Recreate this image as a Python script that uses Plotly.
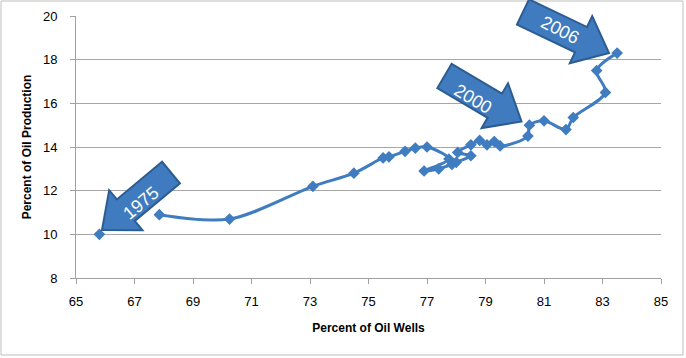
import math
import plotly.graph_objects as go

# ---- data ----
# None marks the break in the drawn line after the first (1975) point
wells_pct = [65.8, None, 67.85, 70.25, 73.1, 74.5, 75.5, 75.7, 76.25, 76.6, 77.0,
             77.75, 76.9, 77.4, 77.85, 78.0, 78.5, 78.05, 78.5, 78.8, 79.05,
             79.3, 79.5, 80.45, 80.5, 81.0, 81.75, 82.0, 83.1, 82.8, 83.5]
production_pct = [10.0, None, 10.9, 10.7, 12.2, 12.8, 13.5, 13.55, 13.8, 13.95, 14.0,
                  13.45, 12.9, 13.0, 13.2, 13.3, 13.6, 13.75, 14.1, 14.3, 14.1,
                  14.25, 14.05, 14.5, 15.0, 15.2, 14.8, 15.35, 16.5, 17.5, 18.3]
x_ticks = [65, 67, 69, 71, 73, 75, 77, 79, 81, 83, 85]
y_ticks = [8, 10, 12, 14, 16, 18, 20]
arrow_labels = ["1975", "2000", "2006"]

# ---- layout geometry ----
W, H = 686, 358
ML, MR, MT, MB = 76, 25, 16, 80
PW, PH = W - ML - MR, H - MT - MB

BLUE = "#3F7CC0"
ARROW_FILL = "#3F7BBE"
ARROW_EDGE = "#2B5D92"
FONT = "Liberation Sans"


def to_paper(px, py):
    return (px - ML) / PW, (H - MB - py) / PH


def block_arrow(tail, tip, shaft_w, head_w, head_len):
    dx, dy = tip[0] - tail[0], tip[1] - tail[1]
    L = math.hypot(dx, dy)
    ux, uy = dx / L, dy / L
    nx, ny = -uy, ux
    bx, by = tip[0] - head_len * ux, tip[1] - head_len * uy
    pts = [
        (tail[0] + nx * shaft_w / 2, tail[1] + ny * shaft_w / 2),
        (bx + nx * shaft_w / 2, by + ny * shaft_w / 2),
        (bx + nx * head_w / 2, by + ny * head_w / 2),
        tip,
        (bx - nx * head_w / 2, by - ny * head_w / 2),
        (bx - nx * shaft_w / 2, by - ny * shaft_w / 2),
        (tail[0] - nx * shaft_w / 2, tail[1] - ny * shaft_w / 2),
    ]
    pp = [to_paper(*p) for p in pts]
    return "M " + " L ".join(f"{a:.4f},{b:.4f}" for a, b in pp) + " Z"


# arrows: (tail, tip, text centre, text angle) in pixel space
arrow_specs = [
    ((171, 172.5), (102, 230), (141, 203), -40),
    ((444.5, 76), (521.5, 121.5), (473, 99), 31),
    ((523, 12), (609, 53), (560, 30), 27),
]

fig = go.Figure()
fig.add_trace(go.Scatter(
    x=wells_pct, y=production_pct, mode="lines+markers",
    line=dict(color=BLUE, width=3, shape="spline", smoothing=0.9),
    marker=dict(symbol="diamond", size=9, color=BLUE),
    connectgaps=False, showlegend=False, hoverinfo="x+y",
))

shapes = [dict(type="rect", xref="paper", yref="paper",
               x0=to_paper(1, 0)[0], x1=to_paper(683, 0)[0],
               y0=to_paper(0, 355)[1], y1=to_paper(0, 1)[1],
               line=dict(color="#BFBFBF", width=1), fillcolor="rgba(0,0,0,0)",
               layer="below")]
annotations = []
for (tail, tip, tc, ang), lab in zip(arrow_specs, arrow_labels):
    shapes.append(dict(type="path", xref="paper", yref="paper",
                       path=block_arrow(tail, tip, 28, 52, 31),
                       fillcolor=ARROW_FILL, line=dict(color=ARROW_EDGE, width=2),
                       layer="above"))
    tx, ty = to_paper(*tc)
    annotations.append(dict(x=tx, y=ty, xref="paper", yref="paper",
                            xanchor="center", yanchor="middle",
                            text=lab, showarrow=False, textangle=ang,
                            font=dict(family=FONT, size=18, color="white")))

fig.update_layout(
    width=W, height=H,
    margin=dict(l=ML, r=MR, t=MT, b=MB, autoexpand=False),
    paper_bgcolor="white", plot_bgcolor="white",
    font=dict(family=FONT, size=13, color="black"),
    shapes=shapes, annotations=annotations,
    xaxis=dict(range=[65, 85], tickvals=x_ticks, ticktext=[str(v) for v in x_ticks],
               automargin=False,
               showgrid=False, zeroline=False, showline=True, linecolor="#A0A0A0",
               linewidth=1, ticks="outside", ticklen=5, tickcolor="#A0A0A0",
               ticklabelstandoff=6, tickfont=dict(size=13),
               title=dict(text="<b>Percent of Oil Wells</b>", font=dict(size=12), standoff=16)),
    yaxis=dict(range=[8, 20], tickvals=y_ticks, ticktext=[str(v) for v in y_ticks],
               automargin=False,
               showgrid=True, gridcolor="#A6A6A6", gridwidth=1, zeroline=False,
               showline=True, linecolor="#A0A0A0", linewidth=1,
               ticks="outside", ticklen=5, tickcolor="#A0A0A0",
               ticklabelstandoff=10, tickfont=dict(size=13),
               title=dict(text="<b>Percent of Oil Production</b>", font=dict(size=12), standoff=8)),
)

fig.write_html("out.html", config={"displayModeBar": False},
               post_script="document.body.style.margin='0';")
